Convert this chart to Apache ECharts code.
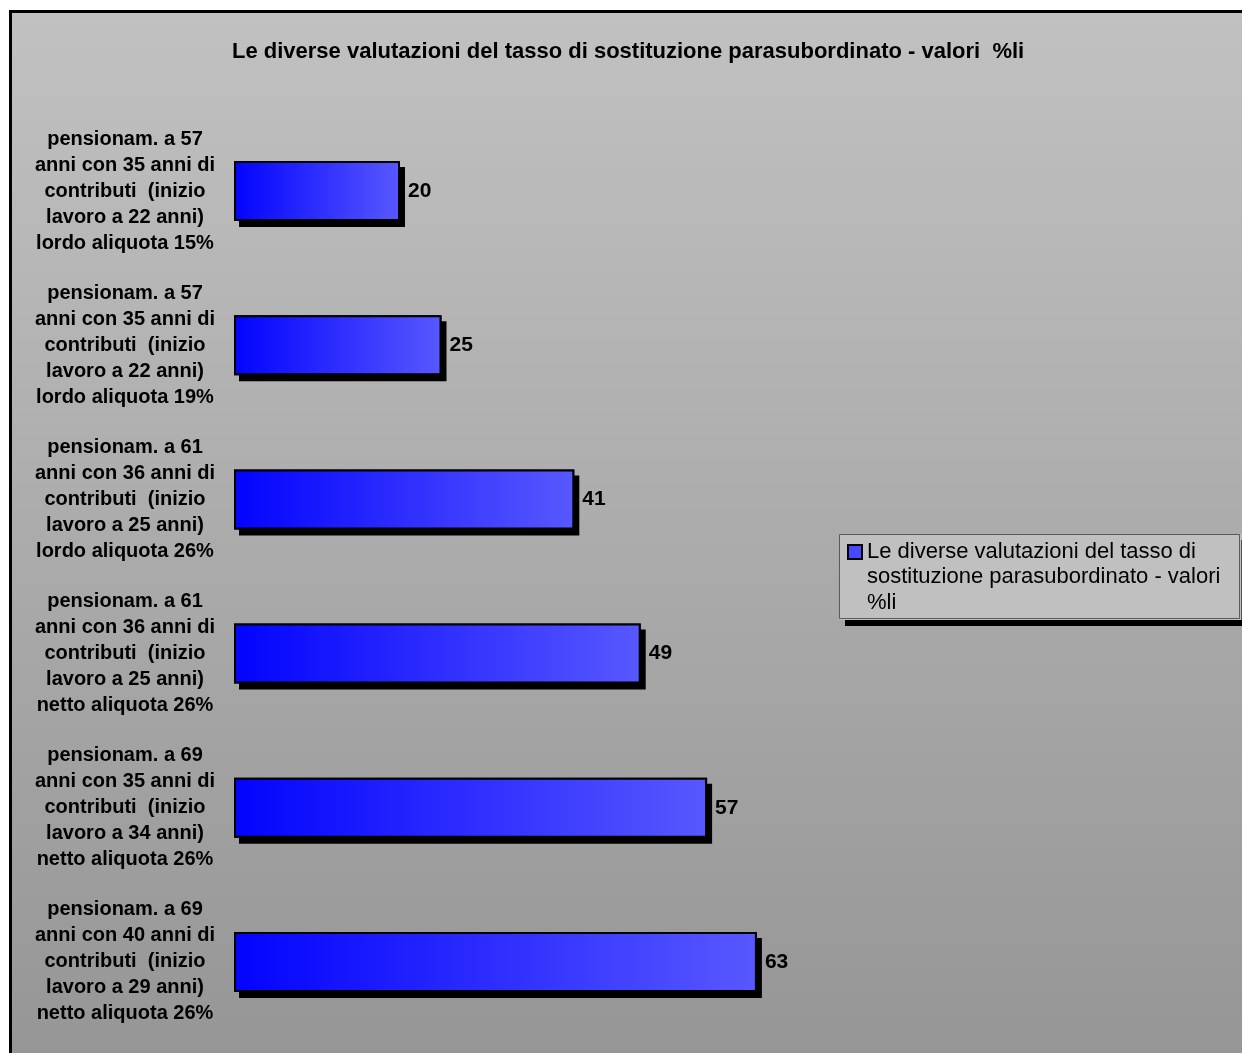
<!DOCTYPE html>
<html>
<head>
<meta charset="utf-8">
<script src="https://cdn.jsdelivr.net/npm/echarts@6/dist/echarts.min.js"></script>
<style>
html,body{margin:0;padding:0;background:#ffffff;}
#chart{width:1242px;height:1053px;}
</style>
</head>
<body>
<div id="chart"></div>
<script>
// ---- data ----
const titleText = 'Le diverse valutazioni del tasso di sostituzione parasubordinato - valori  %li';
const seriesName = 'Le diverse valutazioni del tasso di sostituzione parasubordinato - valori %li';
const legendLines = ['Le diverse valutazioni del tasso di', 'sostituzione parasubordinato - valori', '%li'];
const categories = [
  'pensionam. a 57\nanni con 35 anni di\ncontributi  (inizio\nlavoro a 22 anni)\nlordo aliquota 15%',
  'pensionam. a 57\nanni con 35 anni di\ncontributi  (inizio\nlavoro a 22 anni)\nlordo aliquota 19%',
  'pensionam. a 61\nanni con 36 anni di\ncontributi  (inizio\nlavoro a 25 anni)\nlordo aliquota 26%',
  'pensionam. a 61\nanni con 36 anni di\ncontributi  (inizio\nlavoro a 25 anni)\nnetto aliquota 26%',
  'pensionam. a 69\nanni con 35 anni di\ncontributi  (inizio\nlavoro a 34 anni)\nnetto aliquota 26%',
  'pensionam. a 69\nanni con 40 anni di\ncontributi  (inizio\nlavoro a 29 anni)\nnetto aliquota 26%'
];
const values = [20, 25, 41, 49, 57, 63];

// ---- chart ----
const FONT = "'Liberation Sans', Arial, Helvetica, sans-serif";
const chart = echarts.init(document.getElementById('chart'), null, {renderer: 'canvas'});

const barGradient = new echarts.graphic.LinearGradient(0, 0, 1, 0, [
  {offset: 0, color: '#0303ff'},
  {offset: 1, color: '#5858ff'}
]);

const option = {
  backgroundColor: '#ffffff',
  animation: false,
  graphic: [{
    type: 'rect',
    silent: true,
    z: -100,
    shape: {x: 10.5, y: 11.5, width: 1300, height: 1100},
    style: {
      fill: new echarts.graphic.LinearGradient(0, 11, 0, 1053, [
        {offset: 0, color: '#c1c1c1'},
        {offset: 1, color: '#969696'}
      ], true),
      stroke: '#000000',
      lineWidth: 3
    }
  }, {
    type: 'rect',
    silent: true,
    z: 100,
    shape: {x: 839.5, y: 534.5, width: 400, height: 84},
    style: {fill: null, stroke: '#5a5a5a', lineWidth: 1}
  }],
  title: {
    text: titleText,
    left: 232,
    top: 41,
    padding: 0,
    textStyle: {fontFamily: FONT, fontSize: 22, fontWeight: 'bold', color: '#000000'}
  },
  legend: {
    data: [{name: seriesName, icon: 'path://M0,6L14,6L14,20L0,20Z M0,0 M0,76'}],
    orient: 'vertical',
    left: 840,
    top: 534,
    padding: [4, 21, 4, 7],
    itemWidth: 14,
    itemHeight: 76,
    backgroundColor: '#c0c0c0',
    borderWidth: 0,
    shadowColor: '#000000',
    shadowBlur: 0,
    shadowOffsetX: 5,
    shadowOffsetY: 6,
    itemStyle: {borderColor: '#000000', borderWidth: 2, color: '#4848ff'},
    selectedMode: false,
    formatter: function () { return legendLines.join('\n'); },
    textStyle: {fontFamily: FONT, fontSize: 22, lineHeight: 25.5, color: '#000000'}
  },
  grid: {left: 234, top: 114, height: 925, width: 581, containLabel: false},
  xAxis: {
    type: 'value',
    min: 0,
    max: 70,
    show: false
  },
  yAxis: {
    type: 'category',
    data: categories,
    inverse: true,
    axisLine: {show: false},
    axisTick: {show: false},
    splitLine: {show: false},
    axisLabel: {
      margin: 109,
      align: 'center',
      fontFamily: FONT,
      fontSize: 20,
      fontWeight: 'bold',
      lineHeight: 26,
      color: '#000000'
    }
  },
  series: [{
    name: 'shadow',
    type: 'bar',
    data: values,
    barWidth: 60,
    barGap: '-100%',
    silent: true,
    z: 1,
    itemStyle: {
      color: '#000000',
      borderWidth: 0,
      shadowColor: '#000000',
      shadowBlur: 0,
      shadowOffsetX: 5,
      shadowOffsetY: 6
    },
    label: {show: false}
  }, {
    name: seriesName,
    type: 'bar',
    data: values,
    barWidth: 60,
    barGap: '-100%',
    z: 2,
    itemStyle: {
      color: barGradient,
      borderColor: '#000000',
      borderWidth: 2
    },
    label: {
      show: true,
      position: 'right',
      distance: 8,
      fontFamily: FONT,
      fontSize: 21,
      fontWeight: 'bold',
      color: '#000000'
    }
  }]
};
chart.setOption(option);
</script>
</body>
</html>
